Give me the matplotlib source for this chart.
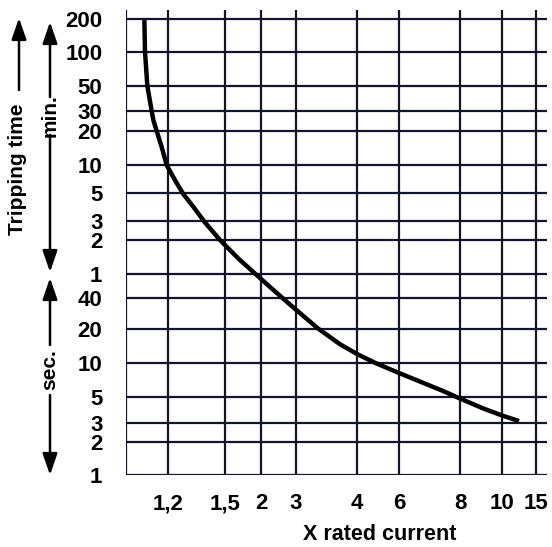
import numpy as np
import matplotlib
matplotlib.use("Agg")
import matplotlib.pyplot as plt

plt.rcParams['font.family'] = ['Liberation Sans', 'DejaVu Sans']
plt.rcParams['font.weight'] = 'bold'

# ---- data ----
current_multiple = [1.083, 1.086, 1.097, 1.118, 1.126, 1.142, 1.167, 1.193, 1.233, 1.274,
                    1.325, 1.384, 1.471, 1.668, 1.932, 2.220, 2.590, 3.0, 3.33, 3.692,
                    4.0, 4.81, 6.0, 6.62, 7.39, 8.0, 9.06, 10.0, 12.25]
trip_time_s = [11800, 6000, 3000, 1800, 1495, 1200, 869, 600, 415, 296,
               234, 177, 120, 82.3, 59.0, 48.3, 39.6, 30.9, 20.2, 14.7,
               12.07, 10, 8.21, 6.90, 5.68, 4.88, 3.99, 3.47, 3.1]

x_tick_values = [1.0, 1.2, 1.5, 2, 3, 4, 6, 8, 10, 15]
x_tick_labels = ['', '1,2', '1,5', '2', '3', '4', '6', '8', '10', '15']

y_tick_values = [1, 2, 3, 5, 10, 20, 40, 60, 120, 180, 300, 600, 1200, 1800, 3000, 6000, 12000]
y_tick_labels = ['1', '2', '3', '5', '10', '20', '40',
                 '1', '2', '3', '5', '10', '20', '30', '50', '100', '200']

# grid spacing of the printed chart (non-uniform scale definition)
x_grid_pos = [0, 42, 99, 135, 170, 231, 273, 334, 376, 410]
y_grid_pos = [0, 32.7, 52.3, 77.7, 111.7, 146, 176.7, 201, 235, 254,
              281.7, 310, 344.3, 364, 389.3, 423.3, 455.7]


def make_scale(values, positions):
    lv = np.log10(np.asarray(values, float))
    ps = np.asarray(positions, float)
    s0 = (ps[1] - ps[0]) / (lv[1] - lv[0])
    s1 = (ps[-1] - ps[-2]) / (lv[-1] - lv[-2])

    def fwd(v):
        v = np.asarray(v, float)
        l = np.log10(np.clip(v, 1e-12, None))
        out = np.interp(l, lv, ps)
        out = np.where(l < lv[0], ps[0] + (l - lv[0]) * s0, out)
        out = np.where(l > lv[-1], ps[-1] + (l - lv[-1]) * s1, out)
        return out

    def inv(p):
        p = np.asarray(p, float)
        out = np.interp(p, ps, lv)
        out = np.where(p < ps[0], lv[0] + (p - ps[0]) / s0, out)
        out = np.where(p > ps[-1], lv[-1] + (p - ps[-1]) / s1, out)
        return 10 ** out

    return fwd, inv


W, H = 552, 547
fig = plt.figure(figsize=(W / 100, H / 100), dpi=100)
fig.patch.set_facecolor('white')
ax = fig.add_axes([126 / W, 1 - 475 / H, (547 - 126) / W, (475 - 10) / H])

ax.set_xscale('function', functions=make_scale(x_tick_values, x_grid_pos))
ax.set_yscale('function', functions=make_scale(y_tick_values, y_grid_pos))
ax.set_xlim(1.0, 17.1)
ax.set_ylim(1, 14650)

for s in ax.spines.values():
    s.set_visible(False)

ax.set_xticks(x_tick_values)
ax.set_xticklabels(x_tick_labels)
ax.set_yticks(y_tick_values)
ax.set_yticklabels(y_tick_labels)
ax.xaxis.set_minor_locator(matplotlib.ticker.NullLocator())
ax.yaxis.set_minor_locator(matplotlib.ticker.NullLocator())
ax.tick_params(axis='both', length=0, labelsize=16, colors='black')
ax.tick_params(axis='x', pad=13)
ax.tick_params(axis='y', pad=17)
for lab in ax.get_xticklabels() + ax.get_yticklabels():
    lab.set_fontweight('bold')

ax.grid(True, color='#14142a', lw=1.6)
ax.set_axisbelow(True)

ax.plot(current_multiple, trip_time_s, color='black', lw=3.2,
        solid_capstyle='butt', solid_joinstyle='round', zorder=5)

fig.text(380 / W, 1 - 535 / H, 'X rated current', ha='center', va='center',
         fontsize=15.5, fontweight='bold')


def fy(py):
    return 1 - py / H


def arrow(x, y0, y1):
    fig.add_artist(matplotlib.patches.FancyArrowPatch(
        (x / W, fy(y0)), (x / W, fy(y1)), transform=fig.transFigure,
        arrowstyle='-|>,head_length=13,head_width=4.5', mutation_scale=1,
        lw=1.8, color='black', shrinkA=0, shrinkB=0))


# Tripping time label with arrow
fig.text(18 / W, fy(169), 'Tripping time', rotation=90, ha='center', va='center',
         fontsize=15, fontweight='bold')
arrow(19, 90, 18)

# min. bracket
fig.text(50 / W, fy(116), 'min.', rotation=90, ha='center', va='center',
         fontsize=15, fontweight='bold')
arrow(50, 97, 22)
arrow(50, 135, 272)

# sec. bracket
fig.text(50 / W, fy(370), 'sec.', rotation=90, ha='center', va='center',
         fontsize=15, fontweight='bold')
arrow(50, 345, 278)
arrow(50, 395, 475)

fig.savefig('out.png', dpi=100, facecolor='white')
